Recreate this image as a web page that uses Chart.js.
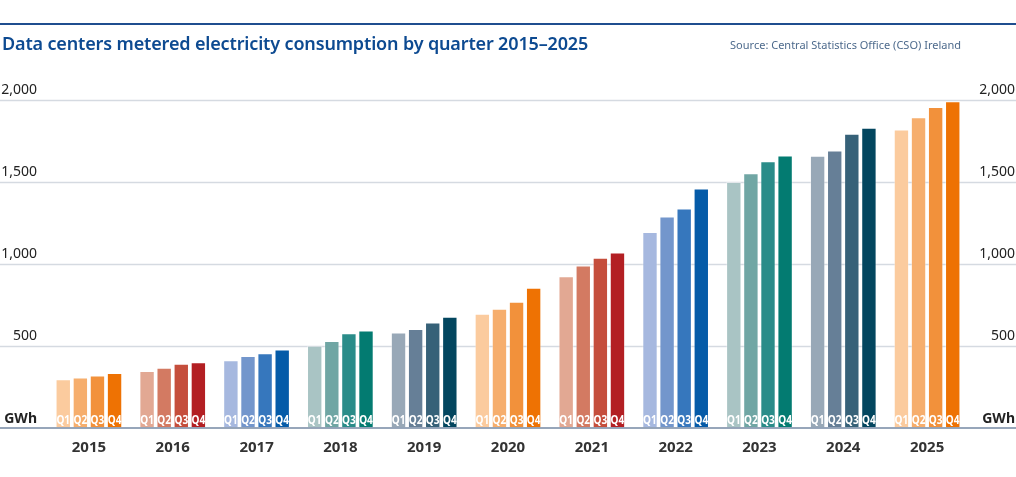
<!DOCTYPE html>
<html lang="en">
<head>
    <meta charset="UTF-8">
    <title>Data centers metered electricity consumption by quarter 2015–2025</title>
    <style>
        body {
            margin: 0;
            background: #ffffff;
        }
        .wrap {
            position: relative;
            width: 1016px;
            height: 477px;
            overflow: hidden;
        }
        .topline {
            position: absolute;
            left: 0;
            top: 23px;
            width: 1016px;
            height: 2px;
            background: #1f4e8f;
        }
        .title {
            position: absolute;
            left: 2px;
            top: 31px;
            margin: 0;
            font-family: "Noto Sans", sans-serif;
            font-weight: 600;
            font-size: 18px;
            letter-spacing: -0.15px;
            line-height: 24px;
            color: #0d4a91;
            white-space: nowrap;
        }
        .source {
            position: absolute;
            right: 55px;
            top: 37px;
            font-family: "Noto Sans", sans-serif;
            font-size: 11px;
            line-height: 16px;
            color: #4d6a8c;
            white-space: nowrap;
        }
        canvas {
            position: absolute;
            left: 0;
            top: 0;
        }
    </style>
</head>
<body>
<div class="wrap">
    <canvas id="chart" width="1016" height="477"></canvas>
    <div class="topline"></div>
    <h1 class="title">Data centers metered electricity consumption by quarter 2015–2025</h1>
    <div class="source">Source: Central Statistics Office (CSO) Ireland</div>
</div>

<script src="https://cdn.jsdelivr.net/npm/chart.js"></script>
<script>
    // valores (GWh)
    const years = ['2015', '2016', '2017', '2018', '2019', '2020', '2021', '2022', '2023', '2024', '2025'];
    const quarters = ['Q1', 'Q2', 'Q3', 'Q4'];
    const q1 = [294, 345, 410, 500, 580, 694, 924, 1194, 1500, 1659, 1820];
    const q2 = [306, 365, 437, 529, 602, 725, 990, 1288, 1553, 1692, 1894];
    const q3 = [318, 390, 453, 575, 641, 768, 1037, 1337, 1626, 1794, 1957];
    const q4 = [333, 398, 476, 592, 676, 853, 1069, 1459, 1661, 1830, 1992];
    const yTicks = [500, 1000, 1500, 2000];
    const unit = 'GWh';

    // paletas por ano (ciclo de 5 cores)
    const palettes = [
        ['#fbcb9e', '#f6ae6d', '#f2913b', '#ee7203'], // laranja
        ['#e2a893', '#d37a62', '#c54e3c', '#b31f23'], // vermelho
        ['#a6b8df', '#7396cc', '#3677bd', '#055ba8'], // azul
        ['#a9c4c4', '#70a6a4', '#2a8c89', '#037b71'], // verde-azulado
        ['#98a8b7', '#667f97', '#366178', '#03465f']  // ardósia
    ];

    const series = [q1, q2, q3, q4];

    const datasets = series.map((values, qi) => ({
        label: quarters[qi],
        data: values,
        backgroundColor: years.map((y, yi) => palettes[yi % palettes.length][qi]),
        borderColor: 'rgba(255, 255, 255, 0.35)',
        borderWidth: 1,
        categoryPercentage: 0.816,
        barPercentage: 0.9
    }));

    // grelha, rótulos Q, eixos com texto
    const decor = {
        id: 'decor',
        beforeDatasetsDraw(chart) {
            const ctx = chart.ctx;
            const y = chart.scales.y;
            ctx.save();
            ctx.strokeStyle = '#d5dae1';
            ctx.lineWidth = 1.5;
            yTicks.forEach(v => {
                const py = Math.round(y.getPixelForValue(v)) + 0.5;
                ctx.beginPath();
                ctx.moveTo(0, py);
                ctx.lineTo(chart.width, py);
                ctx.stroke();
            });
            ctx.restore();
        },
        afterDatasetsDraw(chart) {
            const ctx = chart.ctx;
            const y = chart.scales.y;
            const base = y.getPixelForValue(0);
            ctx.save();

            // linha de base
            ctx.strokeStyle = '#7589a3';
            ctx.lineWidth = 1.5;
            ctx.beginPath();
            ctx.moveTo(0, base + 0.5);
            ctx.lineTo(chart.width, base + 0.5);
            ctx.stroke();

            // Q1..Q4 dentro das barras
            ctx.fillStyle = '#ffffff';
            ctx.font = 'bold 12px "Noto Sans"';
            ctx.textAlign = 'center';
            ctx.textBaseline = 'alphabetic';
            chart.data.datasets.forEach((ds, i) => {
                chart.getDatasetMeta(i).data.forEach(bar => {
                    ctx.save();
                    ctx.translate(bar.x, base - 3.5);
                    ctx.scale(0.84, 1);
                    ctx.fillText(ds.label, 0, 0);
                    ctx.restore();
                });
            });

            // valores do eixo y, dos dois lados
            ctx.fillStyle = '#222222';
            ctx.font = '14px "Noto Sans"';
            ctx.textBaseline = 'alphabetic';
            yTicks.forEach(v => {
                const py = y.getPixelForValue(v) - 6;
                const txt = v.toLocaleString('en-US');
                ctx.textAlign = 'right';
                ctx.fillText(txt, 37, py);
                ctx.fillText(txt, 1015, py);
            });

            ctx.font = 'bold 14px "Noto Sans"';
            ctx.textAlign = 'right';
            ctx.fillText(unit, 37, base - 5);
            ctx.fillText(unit, 1015, base - 5);
            ctx.restore();
        }
    };

    const ctx = document.getElementById('chart').getContext('2d');
    new Chart(ctx, {
        type: 'bar',
        data: {
            labels: years,
            datasets: datasets
        },
        options: {
            responsive: false,
            animation: false,
            layout: {
                padding: { left: 47, right: 47, top: 100, bottom: 9.5 }
            },
            plugins: {
                legend: { display: false },
                tooltip: { enabled: false }
            },
            scales: {
                x: {
                    grid: { display: false, drawTicks: false },
                    border: { display: false },
                    ticks: {
                        color: '#333333',
                        padding: 11,
                        font: { family: 'Noto Sans', size: 15, weight: 'bold' }
                    }
                },
                y: {
                    display: false,
                    min: 0,
                    max: 2000
                }
            }
        },
        plugins: [decor]
    });
</script>
</body>
</html>
